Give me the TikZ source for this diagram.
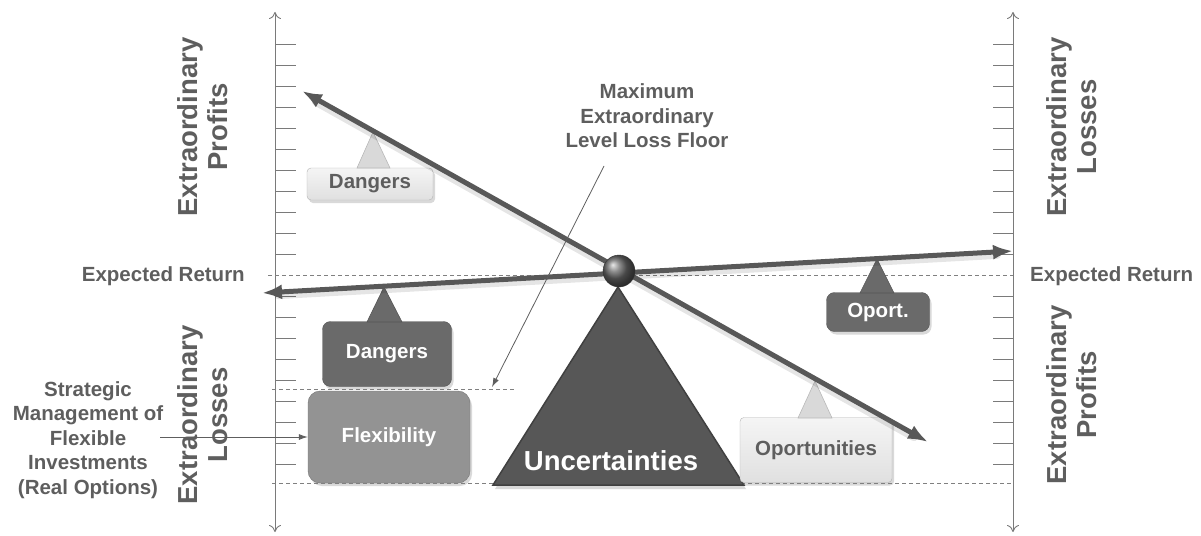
\documentclass[tikz,border=0pt]{standalone}
\usepackage{fontspec}
\setmainfont{Liberation Sans}
\usepackage{tikz}
\usetikzlibrary{arrows.meta, positioning, shadows, calc}

\definecolor{txtgray}{HTML}{5E5E5E}
\definecolor{axgray}{HTML}{7A7A7A}
\definecolor{beamgray}{HTML}{585858}
\definecolor{darkbox}{HTML}{6A6A6A}
\definecolor{midbox}{HTML}{939393}
\definecolor{lightbox}{HTML}{E0E0E0}
\definecolor{trigray}{HTML}{575757}

\tikzset{
  lbl/.style={font=\bfseries\fontsize{20.5}{24.5}\selectfont, text=txtgray, align=center, inner sep=0pt},
  axlbl/.style={font=\bfseries\fontsize{27.5}{30}\selectfont, text=txtgray, align=center, rotate=90, inner sep=0pt},
  axis/.style={draw=axgray, line width=0.9pt, {To[length=7pt,width=12pt]}-{To[length=7pt,width=12pt]}},
  tick/.style={draw=axgray, line width=0.9pt},
  guide/.style={draw=gray, line width=0.8pt, dash pattern=on 4pt off 3pt},
  beam/.style={draw=beamgray, line width=5pt, {Latex[length=20pt,width=15pt]}-{Latex[length=20pt,width=15pt]}},
  beamshade/.style={draw=black, opacity=0.1, line width=8pt, line cap=round},
  thinarrow/.style={draw=txtgray, line width=0.8pt, -{Latex[length=9pt,width=6pt]}},
  boxfont/.style={font=\bfseries\fontsize{20.5}{24}\selectfont},
  darkbtn/.style={boxfont, fill=darkbox, draw=darkbox!80!black, rounded corners=8pt, text=white,
    drop shadow={opacity=0.3, shadow xshift=2pt, shadow yshift=-3pt}},
  lightbtn/.style={boxfont, top color=gray!8, bottom color=lightbox, draw=gray!60, rounded corners=4pt, text=txtgray,
    drop shadow={opacity=0.3, shadow xshift=2pt, shadow yshift=-3pt}},
  midbtn/.style={boxfont, fill=midbox, draw=midbox!80!black, rounded corners=12pt, text=white,
    drop shadow={opacity=0.3, shadow xshift=2pt, shadow yshift=-3pt}},
  darktri/.style={fill=darkbox, draw=darkbox!80!black, line width=0.6pt},
  lighttri/.style={fill=gray!30, draw=gray!55, line width=0.6pt}
}

\begin{document}
\begin{tikzpicture}[x=1pt, y=-1pt]
\useasboundingbox (0,0) rectangle (1201,535);

% Axes
\coordinate (axLtop) at (275,12);
\coordinate (axLbot) at (275,532);
\coordinate (axRtop) at (1013,12);
\coordinate (axRbot) at (1013,532);
\draw[axis] (axLbot) -- (axLtop);
\draw[axis] (axRbot) -- (axRtop);
\foreach \y in {44,65,...,254,296,317,...,464} {
  \draw[tick] (275,\y) -- (296,\y);
  \draw[tick] (993,\y) -- (1013,\y);
}

% Guide lines
\draw[guide] (268,275) -- (1013,275);
\draw[guide] (272,389) -- (515,389);
\draw[guide] (272,483) -- (1013,483);

% Axis labels
\node[axlbl] (profL) at (203,127) {Extraordinary\\Profits};
\node[axlbl] (lossL) at (203,415) {Extraordinary\\Losses};
\node[axlbl] (lossR) at (1072,127) {Extraordinary\\Losses};
\node[axlbl] (profR) at (1072,395) {Extraordinary\\Profits};
\node[lbl, anchor=east] (erL) at (245,276) {Expected Return};
\node[lbl, anchor=west] (erR) at (1030,276) {Expected Return};

% Fulcrum
\draw[fill=trigray, draw=gray!50!black, line width=1.5pt, drop shadow={opacity=0.3, shadow xshift=2pt, shadow yshift=-4pt}]
  (618,287) -- (744,485) -- (493,485) -- cycle;
\node[text=white, font=\bfseries\fontsize{27.5}{30}\selectfont] (uncert) at (611,461) {Uncertainties};

% Boxes
\node[lightbtn, minimum width=126pt, minimum height=32pt] (dang1) at (370,184) {Dangers};
\node[darkbtn, minimum width=129pt, minimum height=65pt] (dang2) at (387,354) {Dangers};
\node[midbtn, minimum width=162pt, minimum height=92pt] (flex) at (389,437) {Flexibility};
\node[darkbtn, minimum width=103pt, minimum height=39pt] (oport) at (878,312) {Oport.};
\node[lightbtn, minimum width=152pt, minimum height=65pt] (oportun) at (816,450) {Oportunities};

% Small supports
\draw[lighttri] (357,168) -- (373,132) -- (390,168) -- cycle;
\draw[darktri] (367,322) -- (384,287) -- (402,322) -- cycle;
\draw[darktri] (860,293) -- (877,259) -- (894,293) -- cycle;
\draw[lighttri] (798,418) -- (815,381) -- (832,418) -- cycle;

% Beams
\coordinate (b1l) at (262,293);
\coordinate (b1r) at (1013,251);
\coordinate (b2l) at (302,91);
\coordinate (b2r) at (928,442);
\draw[beamshade] ($($(b1l)!16pt!(b1r)$)+(0,3)$) -- ($($(b1r)!16pt!(b1l)$)+(0,3)$);
\draw[beamshade] ($($(b2l)!16pt!(b2r)$)+(0,3)$) -- ($($(b2r)!16pt!(b2l)$)+(0,3)$);
\draw[beam] (b1l) -- (b1r);
\draw[beam] (b2l) -- (b2r);
\node[circle, minimum size=32pt, inner sep=0pt, ball color=gray!80!black, draw=gray!40!black] (pivot) at (619,271) {};

% Annotations
\node[lbl] (floor) at (647,116) {Maximum\\Extraordinary\\Level Loss Floor};
\coordinate (floorA) at (604,166);
\coordinate (floorB) at (492,387);
\draw[thinarrow] (floorA) -- (floorB);

\node[lbl] (strat) at (88,440) {Strategic\\Management of\\Flexible\\Investments\\(Real Options)};
\coordinate (stratA) at (160,437);
\draw[thinarrow] (stratA) -- (flex.west);
\end{tikzpicture}
\end{document}
